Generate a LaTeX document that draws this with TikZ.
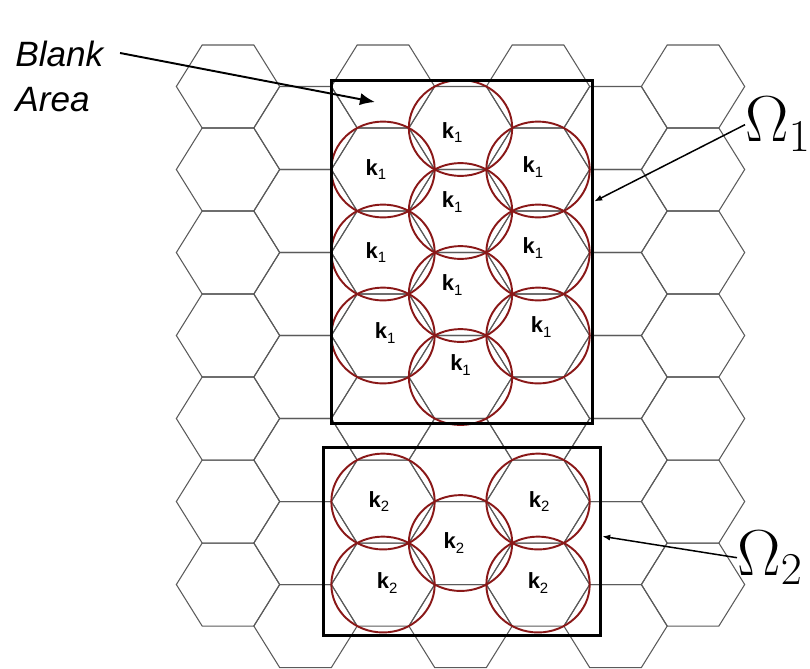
\RequirePackage{fix-cm}
\documentclass[tikz,border=0pt]{standalone}
\usepackage[no-math]{fontspec}
\setmainfont{Liberation Sans}
\usetikzlibrary{arrows.meta,fit}

\definecolor{ringred}{RGB}{138,24,24}
\definecolor{gridgray}{RGB}{90,90,90}

\tikzset{
  hexline/.style={gridgray, line width=0.6pt},
  ring/.style={ringred, line width=1.1pt},
  regionbox/.style={draw=black, line width=1.7pt, inner sep=0pt},
  klabel/.style={inner sep=0pt, font=\fontsize{12.5}{13}\selectfont},
  blanktext/.style={inner sep=0pt, align=left, font=\itshape\fontsize{20}{25.5}\selectfont},
  omegatext/.style={inner sep=0pt, font=\fontsize{37}{40}\selectfont},
  bigpointer/.style={-{Latex[length=8.5pt,width=7pt]}, line width=1.1pt},
  pointer/.style={-{Latex[length=4.5pt,width=3.5pt]}, line width=0.85pt},
}
\newcommand{\ksub}[1]{\textbf{k}\raisebox{-2.5pt}{\fontsize{8.5}{9}\selectfont #1}}

\begin{document}
\begin{tikzpicture}[x=1.0333cm, y=0.9584cm]
  \useasboundingbox (-4.413,1.805) rectangle (11.264,-12.135);
  % hexagonal cells
  \foreach \c in {0,...,6}
    \foreach \r in {0,...,6}
      \draw[hexline] ({1.5*\c},{-1.7320508*(\r+0.5*mod(\c,2))})
        +(0:1) -- +(60:1) -- +(120:1) -- +(180:1) -- +(240:1) -- +(300:1) -- cycle;
  % coverage circles and their labels
  \foreach \c/\r/\dx/\dy/\i in {3/0/-0.16/-0.09/1, 2/1/-0.14/0/1, 4/1/-0.10/0.05/1,
      3/1/-0.16/0.19/1, 2/2/-0.14/0/1, 4/2/-0.10/0.09/1, 3/2/-0.16/0.19/1,
      2/3/0.04/0.05/1, 4/3/0.06/0.18/1, 3/3/0/0.25/1,
      2/5/-0.08/0/2, 4/5/0.02/0/2, 3/5/-0.13/0/2, 2/6/0.08/0.03/2, 4/6/0/0.03/2}
  {
    \draw[ring] ({1.5*\c},{-1.7320508*(\r+0.5*mod(\c,2))}) circle[radius=1];
    \node[klabel] (k-\c-\r) at ({1.5*\c+\dx},{-1.7320508*(\r+0.5*mod(\c,2))+\dy}) {\ksub{\i}};
  }
  % regions
  \coordinate (o1nw) at (2.01,0.115);
  \coordinate (o1se) at (7.06,-7.025);
  \node[regionbox, fit=(o1nw)(o1se)] (box1) {};
  \coordinate (o2nw) at (1.857,-7.526);
  \coordinate (o2se) at (7.215,-11.451);
  \node[regionbox, fit=(o2nw)(o2se)] (box2) {};
  % texts and pointers
  \node[blanktext, anchor=north west] (blank) at (-4.122,0.949) {Blank\\Area};
  \coordinate (blanktail) at (-2.089,0.699);
  \coordinate (blanktip) at (2.843,-0.324);
  \draw[bigpointer] (blanktail) -- (blanktip);
  \node[omegatext, anchor=base west] (om1) at (10.006,-1.158) {$\Omega_1$};
  \node[omegatext, anchor=base west] (om2) at (9.851,-10.194) {$\Omega_2$};
  \draw[pointer] (om1.west) -- (box1.21);
  \draw[pointer] (om2.west) -- (box2.2);
\end{tikzpicture}
\end{document}
